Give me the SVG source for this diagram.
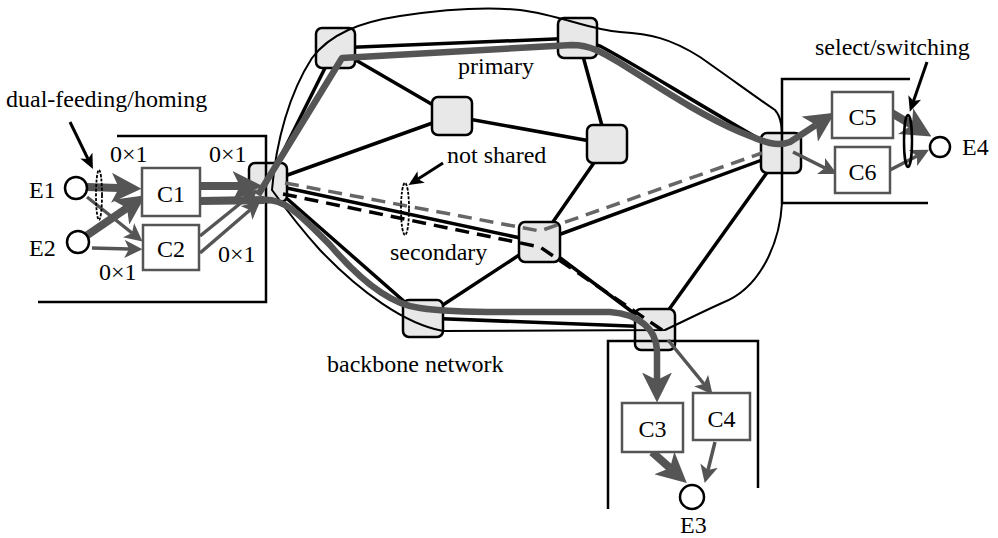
<svg xmlns="http://www.w3.org/2000/svg" width="998" height="538" viewBox="0 0 998 538">
  <style>
    text { font-family: "Liberation Serif", "Times New Roman", serif; font-size: 24px; fill: #000; }
    .edge { stroke: #000; stroke-width: 3.5; fill: none; stroke-linecap: round; }
    .node { fill: #e8e8e8; stroke: #000; stroke-width: 2.5; }
    .cloud { stroke: #000; stroke-width: 2; fill: none; }
    .frame { stroke: #000; stroke-width: 2.5; fill: none; }
    .prim { stroke: #555; stroke-width: 6.5; fill: none; stroke-linejoin: round; }
    .thick { stroke: #555; stroke-width: 8; fill: none; }
    .thin { stroke: #555; stroke-width: 3.5; fill: none; }
    .dashG { stroke: #666; stroke-width: 3.5; fill: none; stroke-dasharray: 14 8; }
    .dashK { stroke: #000; stroke-width: 3.5; fill: none; stroke-dasharray: 14 8; }
    .ann { stroke: #000; stroke-width: 3; fill: none; }
    .cbox { fill: #fff; stroke: #555; stroke-width: 2.5; }
    .term { fill: #fff; stroke: #000; stroke-width: 2.5; }
    .ring { fill: none; stroke: #000; stroke-width: 1.8; stroke-dasharray: 3 1.5; }
  </style>
  <defs>
    <marker id="ahL" viewBox="0 0 20 20" refX="5" refY="10" markerWidth="30" markerHeight="30" markerUnits="userSpaceOnUse" orient="auto">
      <path d="M0,0 L20,10 L0,20 L5,10 z" fill="#555"/>
    </marker>
    <marker id="ahM" viewBox="0 0 20 20" refX="5" refY="10" markerWidth="18" markerHeight="18" markerUnits="userSpaceOnUse" orient="auto">
      <path d="M0,0 L20,10 L0,20 L5,10 z" fill="#555"/>
    </marker>
    <marker id="ahK" viewBox="0 0 20 20" refX="5" refY="10" markerWidth="15" markerHeight="15" markerUnits="userSpaceOnUse" orient="auto">
      <path d="M0,1 L20,10 L0,19 L5,10 z" fill="#000"/>
    </marker>
  </defs>

  <!-- backbone links -->
  <g id="links">
    <path class="edge" d="M268,182 L335,48"/>
    <path class="edge" d="M268,182 L452,116"/>
    <path class="edge" d="M268,184 L539,242"/>
    <path class="edge" d="M268,182 L423,318"/>
    <path class="edge" d="M335,48 L578,38"/>
    <path class="edge" d="M335,48 L452,116"/>
    <path class="edge" d="M452,116 L607,144"/>
    <path class="edge" d="M578,38 L607,144"/>
    <path class="edge" d="M578,38 L600,46 C640,67 700,106 775,148"/>
    <path class="edge" d="M607,144 L539,242"/>
    <path class="edge" d="M539,242 L781,153"/>
    <path class="edge" d="M539,242 L423,318"/>
    <path class="edge" d="M539,242 L655,329"/>
    <path class="edge" d="M423,318 L655,327"/>
    <path class="edge" d="M655,329 L781,153"/>
  </g>

  <!-- switching nodes -->
  <g id="n-left"><rect class="node" x="249" y="163" width="38" height="39" rx="6"/></g>
  <g id="n-topleft"><rect class="node" x="316" y="28" width="39" height="40" rx="6"/></g>
  <g id="n-topright"><rect class="node" x="558" y="18" width="39" height="40" rx="6"/></g>
  <g id="n-center"><rect class="node" x="432" y="97" width="40" height="38" rx="6"/></g>
  <g id="n-rightmid"><rect class="node" x="587" y="125" width="40" height="38" rx="6"/></g>
  <g id="n-lowermid"><rect class="node" x="519" y="222" width="41" height="40" rx="6"/></g>
  <g id="n-bottomleft"><rect class="node" x="403" y="300" width="40" height="37" rx="6"/></g>
  <g id="n-bottomright"><rect class="node" x="635" y="309" width="40" height="41" rx="6"/></g>
  <g id="n-right"><rect class="node" x="761" y="133" width="40" height="40" rx="6"/></g>

  <!-- network boundary -->
  <path class="cloud" d="M272,190 C276,140 290,92 312,58 C330,34 360,22 400,16 C440,10 480,6 520,10 C560,15 590,30 620,32 C650,34 670,38 700,57 C730,78 760,100 775,110 C782,118 782,130 782,140 L782,203 C780,240 762,288 722,303 C700,313 682,322 665,330 L443,331 C405,324 360,292 320,250 C300,228 285,208 272,190 Z"/>

  <!-- site frames -->
  <g id="site-left"><path class="frame" d="M117,136 L266,136 L266,302 L38,302"/></g>
  <g id="site-right"><path class="frame" d="M910,79 L782,79 L782,203 L928,203"/></g>
  <g id="site-bottom"><path class="frame" d="M608,509 L608,341 L758,341 L758,488"/></g>

  <!-- secondary routes -->
  <g id="secondary">
    <path class="dashG" d="M285,183 L540,231 L762,153"/>
    <path class="dashK" d="M283,194 L540,247 L662,330"/>
  </g>

  <!-- primary routes and access arrows -->
  <g id="connectors">
    <path class="prim" d="M258,195 L342,58 L572,45 C590,45 602,52 620,63 C660,88 700,115 740,132 C760,140 775,148 790,142 L816,125" marker-end="url(#ahL)"/>
    <path class="prim" d="M262,200 C285,198 300,215 330,245 C360,280 390,305 420,308 C440,311 460,312 500,312 L610,312 C640,314 656,330 657,350 L657,380" marker-end="url(#ahL)"/>
    <path class="thick" d="M200,201 L264,200"/>
    <path class="thick" d="M200,186 L240,186" marker-end="url(#ahL)"/>
    <path class="thin" d="M200,236 L247,198" marker-end="url(#ahM)"/>
    <path class="thin" d="M200,253 L250,210" marker-end="url(#ahM)"/>
    <path class="thick" d="M87,187 L119,188" marker-end="url(#ahL)"/>
    <path class="thick" d="M86,236 L127,208" marker-end="url(#ahL)"/>
    <path class="thin" d="M87,197 L132,233" marker-end="url(#ahM)"/>
    <path class="thin" stroke-width="3" d="M92,248 L129,249" marker-end="url(#ahM)"/>
    <path class="thin" d="M793,152 L825,168" marker-end="url(#ahM)"/>
    <path class="thick" d="M890,112 L912,125" marker-end="url(#ahL)"/>
    <path class="thin" d="M890,170 L917,156" marker-end="url(#ahM)"/>
    <path class="thin" d="M668,340 L704,384" marker-end="url(#ahM)"/>
    <path class="thick" d="M652,452 L670,468" marker-end="url(#ahL)"/>
    <path class="thin" d="M715,442 L708,470" marker-end="url(#ahM)"/>
  </g>

  <!-- annotation pointers -->
  <g id="annotations">
    <path class="ann" d="M70,122 L88,159" marker-end="url(#ahK)"/>
    <path class="ann" d="M443,163 L418,179" marker-end="url(#ahK)"/>
    <path class="ann" d="M927,62 L913.5,101" marker-end="url(#ahK)"/>
    <ellipse class="ring" cx="99" cy="195" rx="3" ry="25"/>
    <ellipse class="ring" cx="405" cy="209" rx="4" ry="26"/>
    <ellipse fill="none" stroke="#000" stroke-width="2.5" cx="908" cy="141" rx="4" ry="26"/>
  </g>

  <!-- equipment -->
  <g id="c1"><rect class="cbox" x="142" y="168" width="58" height="48"/><text x="171" y="202" text-anchor="middle">C1</text></g>
  <g id="c2"><rect class="cbox" x="143" y="225" width="56" height="45"/><text x="171" y="257" text-anchor="middle">C2</text></g>
  <g id="c3"><rect class="cbox" x="622" y="403" width="61" height="49"/><text x="652.5" y="437" text-anchor="middle">C3</text></g>
  <g id="c4"><rect class="cbox" x="693" y="393" width="57" height="47"/><text x="721.5" y="427" text-anchor="middle">C4</text></g>
  <g id="c5"><rect class="cbox" x="832" y="92" width="61" height="46"/><text x="862.5" y="125" text-anchor="middle">C5</text></g>
  <g id="c6"><rect class="cbox" x="835" y="147" width="55" height="46"/><text x="862.5" y="180" text-anchor="middle">C6</text></g>

  <!-- end points -->
  <g id="e1"><circle class="term" cx="76" cy="188" r="11"/><text x="29" y="198">E1</text></g>
  <g id="e2"><circle class="term" cx="78" cy="242" r="11"/><text x="29" y="256">E2</text></g>
  <g id="e3"><circle class="term" cx="692" cy="497" r="12"/><text x="680" y="533">E3</text></g>
  <g id="e4"><circle class="term" cx="940" cy="147" r="10"/><text x="962" y="155">E4</text></g>

  <!-- labels -->
  <g id="labels">
    <text x="6" y="107">dual-feeding/homing</text>
    <text x="110" y="162">0×1</text>
    <text x="209" y="162">0×1</text>
    <text x="218" y="262">0×1</text>
    <text x="99" y="280">0×1</text>
    <text x="458" y="74">primary</text>
    <text x="447" y="163">not shared</text>
    <text x="390" y="260">secondary</text>
    <text x="327" y="372">backbone network</text>
    <text x="815" y="55">select/switching</text>
  </g>
</svg>
